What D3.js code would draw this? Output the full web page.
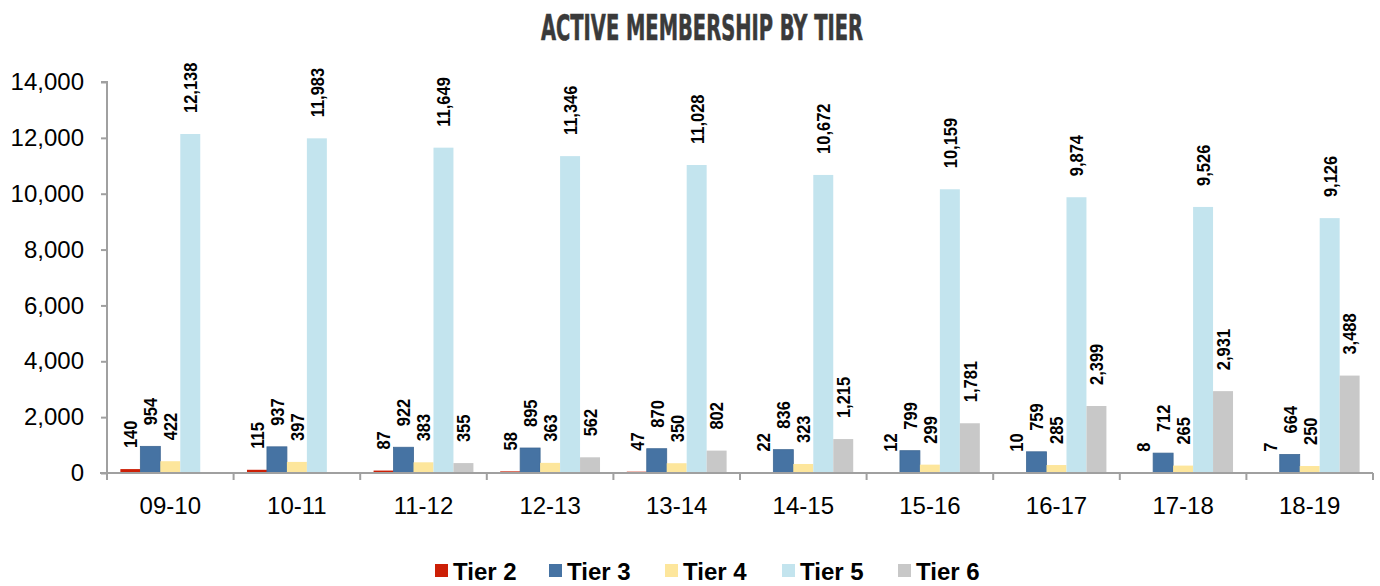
<!DOCTYPE html>
<html>
<head>
<meta charset="utf-8">
<script src="https://cdn.jsdelivr.net/npm/d3@7"></script>
<style>
  html, body { margin: 0; padding: 0; background: #fff; }
  svg { display: block; }
</style>
</head>
<body>
<svg id="chart" width="1380" height="586"></svg>
<script>
const categories = ["09-10","10-11","11-12","12-13","13-14","14-15","15-16","16-17","17-18","18-19"];
const seriesNames = ["Tier 2","Tier 3","Tier 4","Tier 5","Tier 6"];
const tier2 = [140,115,87,58,47,22,12,10,8,7];
const tier3 = [954,937,922,895,870,836,799,759,712,664];
const tier4 = [422,397,383,363,350,323,299,285,265,250];
const tier5 = [12138,11983,11649,11346,11028,10672,10159,9874,9526,9126];
const tier6 = [null,null,355,562,802,1215,1781,2399,2931,3488];
const yTicks = [0,2000,4000,6000,8000,10000,12000,14000];
const colors = ["#cc1f06","#4673a3","#fde69c","#c3e4ee","#c8c8c8"];
const titleText = "ACTIVE MEMBERSHIP BY TIER";

const seriesValues = [tier2, tier3, tier4, tier5, tier6];

(function draw() {
const svg = d3.select("#chart");
const pL = 107, pR = 1373, pT = 82, pB = 473;

const x = d3.scaleBand().domain(categories).range([pL, pR]).paddingInner(0).paddingOuter(0);
const inner = d3.scaleBand().domain(seriesNames).range([0, x.bandwidth()]).paddingOuter(0.67).paddingInner(0);
const y = d3.scaleLinear().domain([0, 14000]).range([pB, pT]);
const fmt = d3.format(",");

// Title
svg.append("text")
  .attr("x", 702).attr("y", 40)
  .attr("text-anchor", "middle")
  .attr("textLength", 322)
  .attr("lengthAdjust", "spacingAndGlyphs")
  .style("font-family", "'Liberation Sans Narrow','DejaVu Sans Condensed','Liberation Sans',sans-serif")
  .style("font-weight", "bold")
  .style("font-size", "35px")
  .style("fill", "#3a3a3a")
  .style("stroke", "#3a3a3a")
  .style("stroke-width", "0.6px")
  .text(titleText);

// Bars
seriesNames.forEach((name, si) => {
  const data = categories.map((c, i) => ({c, v: seriesValues[si][i]})).filter(d => d.v != null);
  const g = svg.append("g");
  g.selectAll("rect").data(data).enter().append("rect")
    .attr("x", d => x(d.c) + inner(name))
    .attr("width", inner.bandwidth())
    .attr("y", d => y(d.v))
    .attr("height", d => y(0) - y(d.v))
    .attr("fill", colors[si])
    .attr("stroke", si === 1 ? "#3f6894" : "none")
    .attr("stroke-width", si === 1 ? 0.8 : 0);
  g.selectAll("text").data(data).enter().append("text")
    .attr("transform", d => `translate(${x(d.c) + inner(name) + inner.bandwidth()/2},${y(d.v) - 21}) rotate(-90) scale(1,1.15)`)
    .attr("dy", "0.36em")
    .attr("text-anchor", "start")
    .style("font-family", "'Liberation Sans',Arial,sans-serif")
    .style("font-weight", "bold")
    .style("font-size", "16.5px")
    .style("fill", "#000")
    .text(d => fmt(d.v));
});

// Y axis
const yAxis = d3.axisLeft(y).tickValues(yTicks).tickFormat(fmt).tickSize(6).tickPadding(17);
const gy = svg.append("g").attr("transform", `translate(${pL},0)`).call(yAxis);
gy.select(".domain").attr("stroke", "#a0a0a0").attr("stroke-width", 2).attr("d", `M-6,${pT}H0V${pB}`);
gy.selectAll(".tick line").attr("stroke", "#a0a0a0").attr("stroke-width", 2);
gy.selectAll(".tick text")
  .style("font-family", "'Liberation Sans',Arial,sans-serif")
  .style("font-size", "24px")
  .style("fill", "#000");

// X axis
const xAxis = d3.axisBottom(x).tickSize(0).tickPadding(24);
const gx = svg.append("g").attr("transform", `translate(0,${pB})`).call(xAxis);
gx.select(".domain").attr("stroke", "#a0a0a0").attr("stroke-width", 2).attr("d", `M${pL-7},0H${pR}`);
gx.selectAll(".tick text")
  .style("font-family", "'Liberation Sans',Arial,sans-serif")
  .style("font-size", "24px")
  .style("fill", "#000");
const bounds = categories.map(c => x(c)).concat([pR]);
gx.selectAll("line.bound").data(bounds).enter().append("line")
  .attr("class", "bound")
  .attr("x1", d => d).attr("x2", d => d)
  .attr("y1", 0).attr("y2", 7)
  .attr("stroke", "#a0a0a0").attr("stroke-width", 2);

// Legend
const legendX = [435, 549, 665, 782, 898];
const lg = svg.append("g");
seriesNames.forEach((name, i) => {
  lg.append("rect").attr("x", legendX[i]).attr("y", 564).attr("width", 13).attr("height", 13).attr("fill", colors[i]);
  lg.append("text").attr("x", legendX[i] + 18).attr("y", 580)
    .style("font-family", "'Liberation Sans',Arial,sans-serif")
    .style("font-weight", "bold")
    .style("font-size", "24px")
    .style("fill", "#000")
    .text(name);
});
})();
</script>
</body>
</html>
